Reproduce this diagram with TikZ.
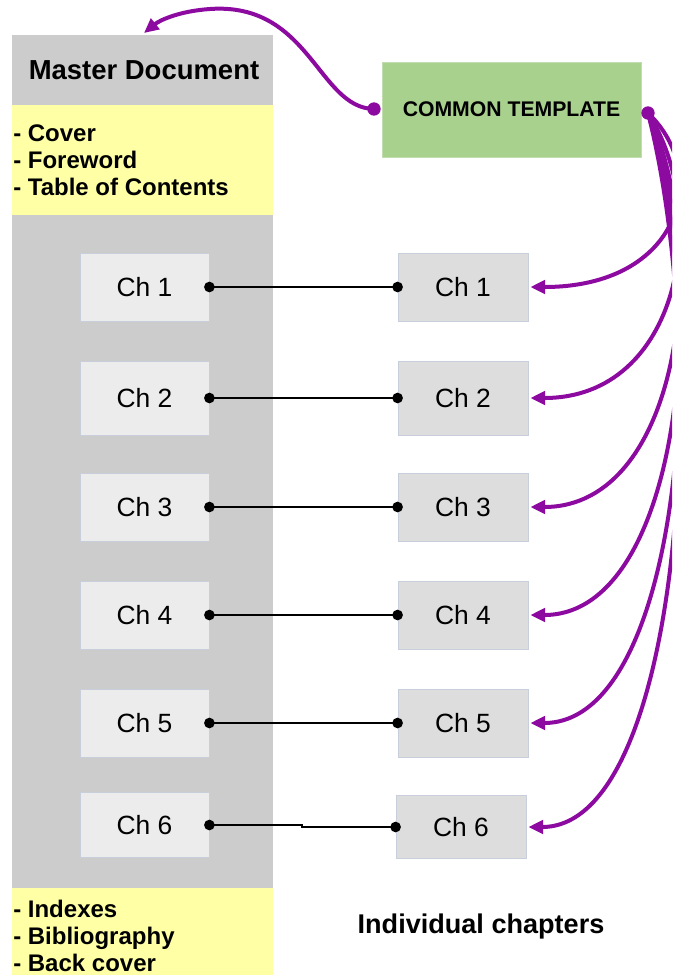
\documentclass[tikz,border=0pt]{standalone}
\usepackage{fontspec}
\setmainfont{Liberation Sans}
\usetikzlibrary{arrows.meta,calc}
\definecolor{colgray}{HTML}{CCCCCC}
\definecolor{yel}{HTML}{FFFFA6}
\definecolor{tgreen}{HTML}{A9D18E}
\definecolor{tgreenB}{HTML}{C2DDB0}
\definecolor{chL}{HTML}{ECECEC}
\definecolor{chR}{HTML}{DDDDDD}
\definecolor{chB}{HTML}{C9CEDB}
\definecolor{purp}{RGB}{140,10,160}
\begin{document}
\begin{tikzpicture}[x=0.75pt,y=-0.75pt,
  chl/.style={draw=chB, fill=chL, line width=0.6pt, minimum width=129*0.75pt, minimum height=68*0.75pt, inner sep=0pt, font=\fontsize{19.8}{23}\selectfont},
  chr/.style={chl, fill=chR, minimum width=130*0.75pt},
  link/.style={line width=1.5pt, black},
  bdot/.style={circle, fill=black, inner sep=0pt, minimum size=8pt},
  pdot/.style={circle, fill=purp, inner sep=0pt, minimum size=10pt},
  pline/.style={purp, line width=3pt, -{Triangle[length=11pt,width=10pt]}},
  lst/.style={anchor=west, align=left, inner sep=0pt, font=\bfseries\fontsize{18}{20.25}\selectfont}
]
\useasboundingbox (0,0) rectangle (672,975);
\clip (0,0) rectangle (672,975);
\fill[white] (0,0) rectangle (672,975);
% master column
\fill[colgray] (12,35) rectangle (273,975);
\fill[yel] (12,105) rectangle (273,215);
\fill[yel] (12,888) rectangle (273,975);
\node[font=\bfseries\fontsize{20.6}{24}\selectfont, inner sep=0pt] (master) at (144,70) {Master Document};
\node[lst] (front) at (13,160) {- Cover\\- Foreword\\- Table of Contents};
\node[lst] (back) at (13,936) {- Indexes\\- Bibliography\\- Back cover};
% template
\node[draw=tgreenB, fill=tgreen, line width=0.6pt, minimum width=259*0.75pt, minimum height=95*0.75pt, inner sep=0pt,
      font=\bfseries\fontsize{15.9}{19}\selectfont] (T) at (511.5,109.5) {COMMON TEMPLATE};
% chapters
\node[chl] (L1) at (144.5,287) {Ch 1};
\node[chl, minimum height=74*0.75pt] (L2) at (144.5,398) {Ch 2};
\node[chl] (L3) at (144.5,507) {Ch 3};
\node[chl] (L4) at (144.5,615) {Ch 4};
\node[chl] (L5) at (144.5,723) {Ch 5};
\node[chl, minimum height=65*0.75pt] (L6) at (144.5,825) {Ch 6};
\node[chr] (R1) at (463,287) {Ch 1};
\node[chr, minimum height=74*0.75pt] (R2) at (463,398) {Ch 2};
\node[chr] (R3) at (463,507) {Ch 3};
\node[chr] (R4) at (463,615) {Ch 4};
\node[chr] (R5) at (463,723) {Ch 5};
\node[chr, minimum height=63*0.75pt] (R6) at (461,827) {Ch 6};
\node[font=\bfseries\fontsize{20.3}{24}\selectfont, inner sep=0pt] (indiv) at (481,926) {Individual chapters};
% links
\foreach \i in {1,...,5} {
  \draw[link] (L\i.east) -- (R\i.west);
}
\draw[link] (L6.east) -- ++(93,0) |- (R6.west);
\foreach \i in {1,...,6} {
  \node[bdot] at (L\i.east) {};
  \node[bdot] at (R\i.west) {};
}
% purple connectors
\coordinate (tl) at (374,109);
\coordinate (tr) at (648,113);
\coordinate (mt) at (144,33);
\draw[pline] (tl) .. controls (318,108) and (310,2) .. (210,9) .. controls (180,11) and (160,20) .. (mt);
\foreach \i/\y in {1/287,2/398,3/507,4/615,5/723,6/827} {
  \draw[pline] (tr) .. controls (712,{113+0.35*(\y-113)}) and (680,\y) .. ($(R\i.east)+(2,0)$);
}
\node[pdot] at (tl) {};
\node[pdot] at (tr) {};
\end{tikzpicture}
\end{document}
